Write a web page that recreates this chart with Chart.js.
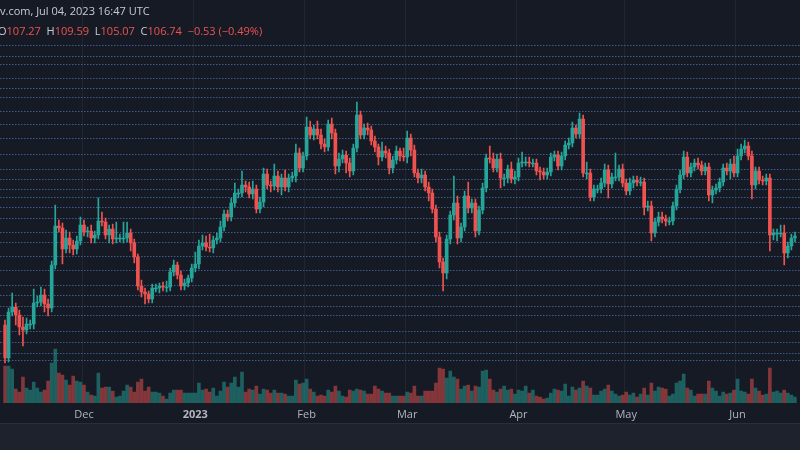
<!DOCTYPE html>
<html>
<head>
<meta charset="utf-8">
<script src="https://cdn.jsdelivr.net/npm/chart.js@4"></script>
<style>
  body { margin:0; background:#161a25; width:800px; height:450px; overflow:hidden; font-family:"Open Sans", sans-serif; }
  #wrap { position:relative; width:800px; height:423px; }
  #foot { width:800px; height:27px; background:#1e222d; border-top:1px solid #2a2e39; }
  .hdr { position:absolute; left:0; font-size:11px; color:#c8cbd3; white-space:nowrap; z-index:2; }
  .hdr .r { color:#ef5350; }
</style>
</head>
<body>
<div id="wrap">
  <div class="hdr" style="top:3px;">v.com, Jul 04, 2023 16:47 UTC</div>
  <div class="hdr" style="top:23px;left:-2px;">O<span class="r">107.27</span>&nbsp; H<span class="r">109.59</span>&nbsp; L<span class="r">105.07</span>&nbsp; C<span class="r">106.74</span>&nbsp; <span class="r">−0.53 (−0.49%)</span></div>
  <canvas id="myChart" width="800" height="423"></canvas>
</div>
<div id="foot"></div>
<script>
// daily closes (price units), first open
var firstOpen = 75;
var closes = [
  42,88,93,85,73,70,76,76,97,98,
  105,96,92,135,174,172,151,162,155,151,
  159,175,168,169,162,165,179,178,165,171,
  161,162,162,162,167,157,143,114,108,106,
  101,112,112,114,113,113,128,135,125,114,
  117,122,132,136,154,157,153,152,160,162,
  173,186,183,197,207,207,215,213,206,211,
  191,198,226,215,214,224,213,222,213,222,
  224,247,232,244,273,265,271,265,256,253,
  276,267,234,241,245,237,229,252,285,265,
  272,270,259,253,243,249,247,232,240,249,
  244,243,262,250,227,222,225,213,207,191,
  163,138,127,161,185,197,162,173,204,192,
  197,169,190,212,242,241,232,241,222,222,
  231,221,223,237,238,238,237,237,229,228,
  225,228,243,245,234,244,255,257,272,266,
  281,227,227,203,211,211,217,230,216,223,
  223,231,217,209,217,220,218,218,193,194,
  167,178,183,181,179,179,194,211,225,243,
  227,233,237,235,229,233,205,210,212,218,
  232,229,236,227,244,251,254,244,215,229,
  220,219,222,165,167,167,167,147,154,162,
  164
];
var wickUp = [
  5,4,14,4,5,10,6,4,14,6, 8,6,5,4,21,6,5,8,6,5,
  5,8,5,4,6,4,23,9,4,4, 5,16,4,16,11,4,4,3,6,4,
  3,4,4,3,4,6,4,5,3,4, 4,3,4,12,6,8,7,13,4,5,
  6,4,4,5,10,4,14,4,5,8, 4,5,6,5,4,12,5,4,8,4,
  4,9,5,4,10,6,4,8,6,5, 4,6,4,6,5,4,5,4,13,4,
  4,5,4,5,3,9,5,4,4,5, 3,8,7,4,5,4,6,4,5,4,
  4,5,4,4,4,27,7,4,5,14, 4,4,4,5,4,12,6,5,6,4,
  4,7,6,5,10,5,5,4,4,4, 4,4,4,4,4,4,4,5,6,3,
  6,4,11,4,4,4,5,6,5,4, 24,4,5,4,5,4,4,5,4,5,
  5,4,5,5,4,4,4,4,5,6, 5,4,4,5,4,4,4,4,4,4,
  4,5,5,8,7,5,6,4,5,4, 4,4,4,4,4,4,8,8,4,4, 4
];
var wickDn = [
  5,4,4,10,8,16,4,5,5,4, 4,8,8,4,4,4,15,4,8,6,
  5,4,4,5,5,5,4,4,4,8, 5,4,4,5,4,8,6,4,5,10,
  4,4,4,5,4,5,4,4,4,4, 4,4,4,4,5,4,4,4,5,4,
  4,4,4,4,4,5,4,5,4,5, 4,4,5,4,6,4,5,8,4,5,
  4,6,4,4,4,4,5,4,5,5, 4,6,8,6,4,10,6,4,4,4,
  4,5,4,5,8,4,5,6,5,4, 5,4,6,6,4,5,5,4,8,4,
  5,6,18,6,5,5,6,4,4,5, 5,6,4,4,4,4,4,4,10,8,
  5,4,5,4,4,4,4,4,4,8, 4,4,4,4,4,4,4,4,4,4,
  4,4,6,4,4,4,4,4,14,4, 4,4,4,4,4,5,4,4,8,4,
  8,4,4,4,5,4,4,4,4,4, 4,4,4,4,4,4,6,8,4,4,
  4,4,8,4,4,4,4,4,14,4, 4,4,4,16,5,8,4,12,5,4, 4
];
var volumes = [
  37,37,34,14,11,26,15,13,21,15, 11,13,22,40,54,30,28,23,18,27,
  22,21,18,11,8,7,30,15,16,16, 12,6,7,12,18,16,11,21,24,12,
  16,11,11,10,7,4,10,13,13,13, 10,10,10,10,20,13,14,11,15,7,
  12,21,16,20,26,16,31,11,14,13, 17,9,14,13,10,13,10,10,9,7,
  7,23,19,20,24,14,11,7,8,7, 13,11,17,12,7,6,13,12,14,13,
  12,9,9,17,14,12,10,10,7,7, 7,7,11,10,17,7,7,12,12,12,
  20,35,34,25,32,26,24,14,17,18, 12,17,16,32,33,24,13,11,14,17,
  13,14,9,13,12,17,10,13,7,6, 4,5,10,14,13,12,19,7,16,13,
  15,22,17,15,8,8,12,14,18,12, 9,7,8,11,8,10,6,9,15,8,
  20,12,16,15,14,7,9,20,22,29, 15,13,7,9,9,9,22,15,12,7,
  11,9,10,13,24,12,11,9,24,15, 12,8,9,35,11,12,10,13,10,8, 6
];
// dotted horizontal levels
var levels = [355,344,336,322,312,303,289,276,262,246,231,221,211,203,193,182,168,158,144,130,115,105,94,85,69,58,47,40];
var monthTicks = { 22:'Dec', 53:'2023', 84:'Feb', 112:'Mar', 143:'Apr', 173:'May', 204:'Jun' };

var labels = closes.map((c, i) => i);
var opens = closes.map((c, i) => i == 0 ? firstOpen : closes[i - 1]);
var up = closes.map((c, i) => c >= opens[i]);
var GREEN = '#26a69a', RED = '#ef5350';

var bodies = closes.map((c, i) => [opens[i], c]);
var wicks = closes.map((c, i) => [Math.min(opens[i], c) - wickDn[i], Math.max(opens[i], c) + wickUp[i]]);
var candleColors = up.map(u => u ? GREEN : RED);
var volColors = up.map(u => u ? 'rgba(38,166,154,0.5)' : 'rgba(239,83,80,0.5)');

const levelLines = {
  id: 'levelLines',
  beforeDatasetsDraw(chart) {
    const ctx = chart.ctx, y = chart.scales.y;
    ctx.save();
    ctx.setLineDash([1.5, 1.5]);
    ctx.lineWidth = 1;
    ctx.strokeStyle = 'rgba(66,104,165,0.85)';
    levels.forEach(l => {
      const py = Math.round(y.getPixelForValue(l)) + 0.5;
      ctx.beginPath(); ctx.moveTo(0, py); ctx.lineTo(800, py); ctx.stroke();
    });
    ctx.restore();
  }
};

new Chart(document.getElementById('myChart'), {
  type: 'bar',
  data: {
    labels: labels,
    datasets: [
      { data: wicks, backgroundColor: candleColors, barThickness: 1, grouped: false, yAxisID: 'y' },
      { data: bodies, backgroundColor: candleColors, barThickness: 3, minBarLength: 1, grouped: false, yAxisID: 'y' },
      { data: volumes, backgroundColor: volColors, barThickness: 3, grouped: false, yAxisID: 'yv' }
    ]
  },
  options: {
    responsive: false,
    animation: false,
    layout: { padding: 0 },
    plugins: { legend: { display: false }, tooltip: { enabled: false } },
    scales: {
      x: {
        afterFit: s => { s.height = 20; },
        border: { display: false },
        grid: {
          color: ctx => monthTicks[ctx.index] ? 'rgba(255,255,255,0.05)' : 'rgba(0,0,0,0)',
          drawTicks: false
        },
        ticks: {
          autoSkip: false, maxRotation: 0, padding: 5,
          color: '#b2b5be',
          font: ctx => ({ family: 'Open Sans', size: 11, weight: ctx.tick && ctx.tick.label == '2023' ? 'bold' : 'normal' }),
          callback: (v, i) => monthTicks[i] || ''
        }
      },
      y: { display: false, min: -3, max: 400 },
      yv: { display: false, min: 0, max: 403 }
    }
  },
  plugins: [levelLines]
});
</script>
</body>
</html>
